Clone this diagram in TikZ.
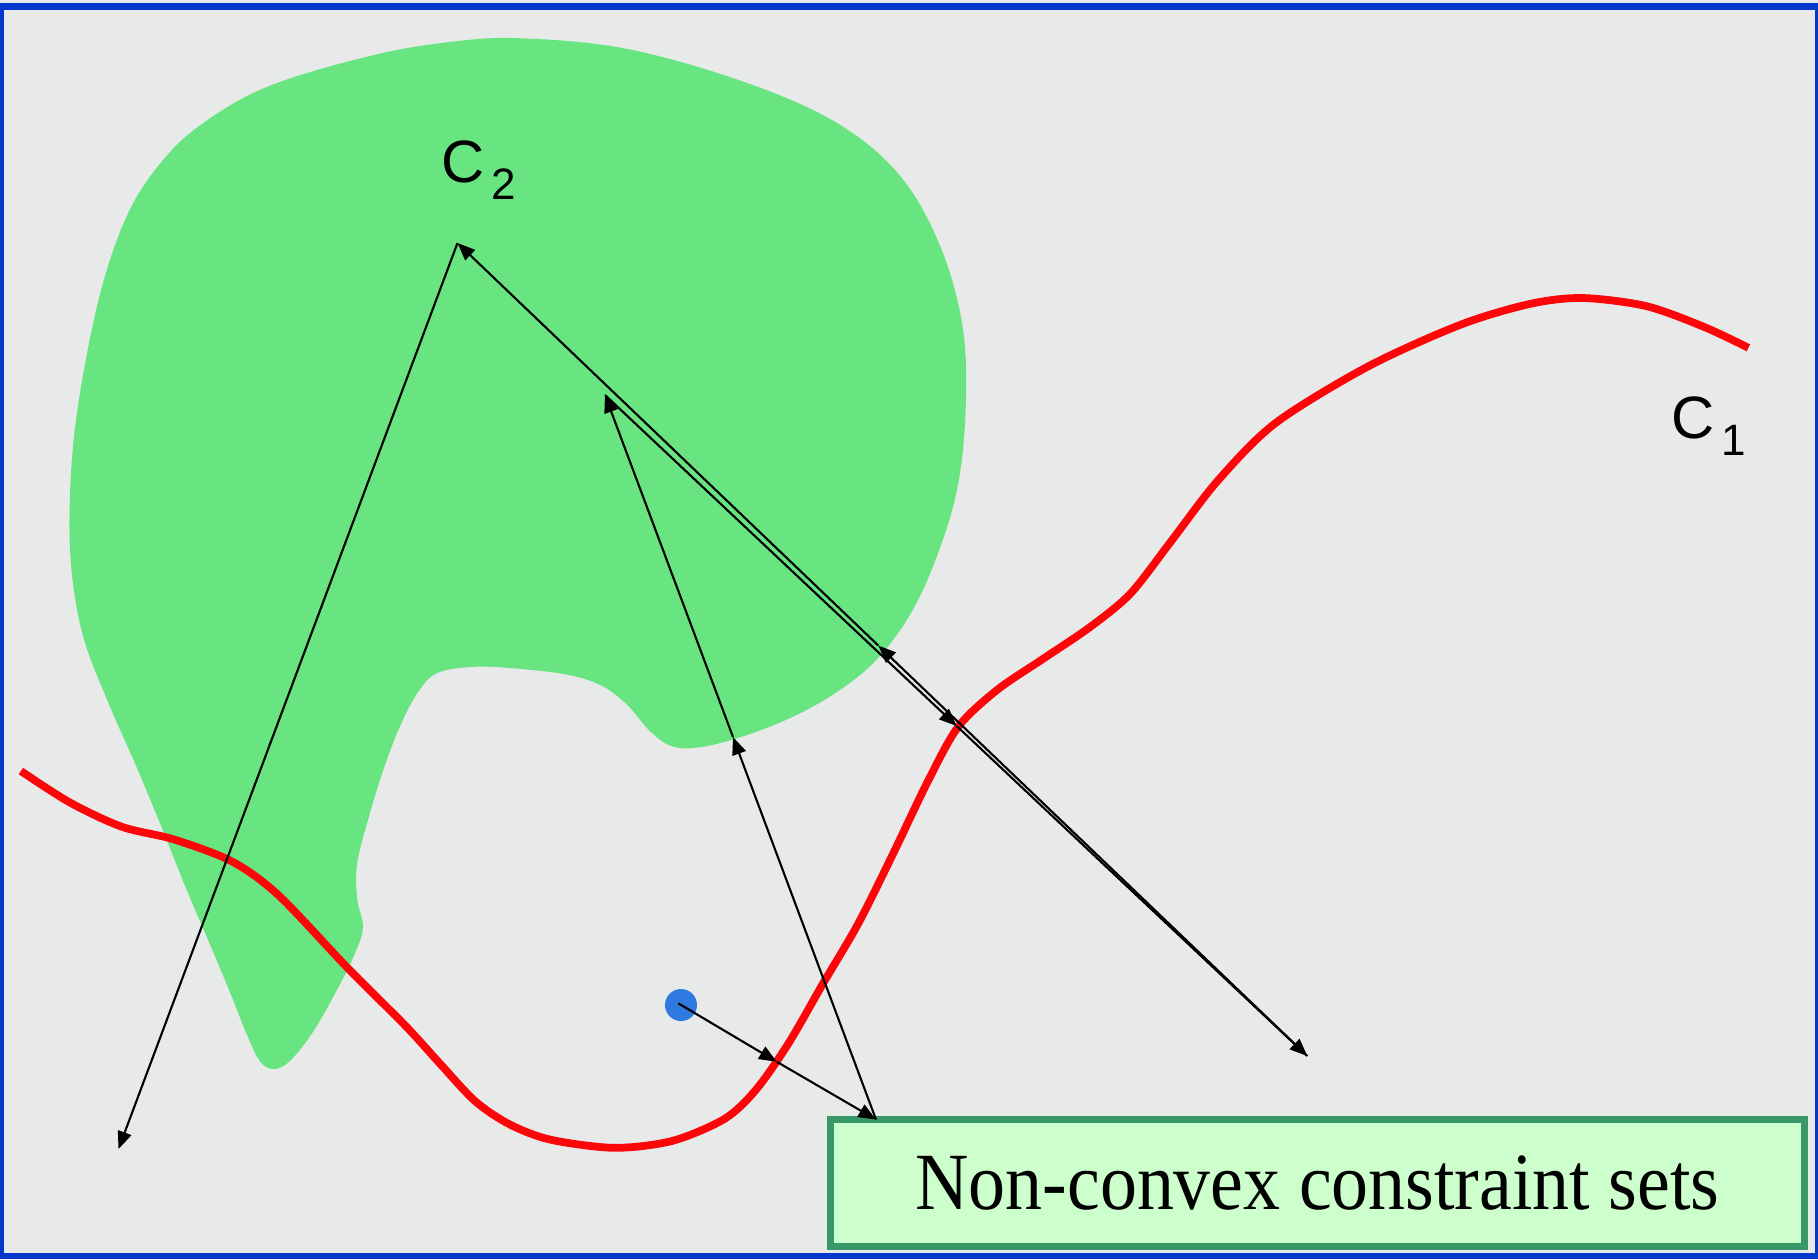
\documentclass[tikz,border=0pt]{standalone}
\usepackage{fontspec}
\setmainfont{Liberation Serif}
\newfontfamily\setfont{Liberation Sans}
\usetikzlibrary{arrows.meta}
\definecolor{bggray}{RGB}{232,234,233}
\definecolor{frameblue}{RGB}{4,56,204}
\definecolor{setgreen}{RGB}{104,228,128}
\definecolor{curvered}{RGB}{252,6,10}
\definecolor{dotblue}{RGB}{46,122,224}
\definecolor{boxfill}{RGB}{204,255,204}
\definecolor{boxline}{RGB}{56,152,104}

\begin{document}
\begin{tikzpicture}[x=0.01cm,y=-0.01cm,
  proj/.style={-{Triangle[length=5pt,width=4pt]},line width=.6pt},
  setlabel/.style={anchor=base west,inner sep=0pt,font=\setfont\fontsize{17}{20}\selectfont}]
\useasboundingbox (0,0) rectangle (1818,1259);
% background and frame
\fill[bggray] (0,0) rectangle (1818,1259);
\fill[frameblue] (0,3) rectangle (1818,10);
\fill[frameblue] (0,3) rectangle (4,1259);
\fill[frameblue] (1815,3) rectangle (1818,1259);
\fill[frameblue] (0,1253) rectangle (1818,1259);
% set C2
\fill[setgreen] plot[smooth cycle,tension=.6] coordinates {
  (521.7,38.3) (626.1,48.7) (742,81.2) (834.8,121.7) (898.5,173.9) (939.1,243.5)
  (962.3,324.6) (965.8,405.8) (957.6,486.9) (936.8,556.5) (910.1,614.5) (875.3,660.9)
  (834.8,693.3) (788.4,718.8) (736.2,738.5) (695.6,747.8) (670.1,745.5) (649.3,730.4)
  (626.1,703.7) (600.6,685.2) (568.1,674.8) (521.7,669) (475.4,666.7) (438.3,672.5)
  (419.7,689.8) (402.3,721.1) (384.9,765.2) (368.7,817.4) (357.1,863.7) (357.1,898.5)
  (362.9,927.5) (353.6,956.5) (336.2,991.3) (313,1031.9) (289.9,1060.9) (273.6,1069)
  (259.7,1060.9) (245.8,1031.9) (229.6,991.3) (208.7,941.4) (185.5,887) (162.3,829)
  (136.8,767.5) (107.8,701.4) (83.5,637.7) (71.9,573.9) (69.6,510.1) (74.2,434.8)
  (87,353.6) (104.3,278.3) (127.5,214.5) (156.5,168.1) (197.1,127.5) (266.7,87)
  (371,55.7) (452.2,41.7)};
% set C1
\draw[curvered,line width=2.2pt] plot[smooth] coordinates {
  (20.9,771) (69.6,802.3) (121.7,826.7) (173.9,839.4) (231.9,861.4) (278.3,895)
  (347.8,968.1) (405.8,1026.1) (440.6,1064.3) (475.4,1101.4) (510.1,1124.6) (550.7,1139.7)
  (614.5,1147.8) (672.5,1140.8) (724.6,1118.8) (755.9,1089.8) (788.4,1043.5) (823.2,983.2)
  (858,924) (892.7,854.5) (927.5,782) (958,727) (997,690) (1043.5,658.5)
  (1089.8,627.2) (1130.4,593.6) (1171,541.4) (1217.4,481.1) (1275.3,423.2) (1368.1,366.4)
  (1460.8,324.6) (1530.4,303.8) (1582.6,298) (1646.3,306.1) (1704.3,327) (1748.4,347.8)};
% labels
\node[setlabel] (lblCtwo) at (441,182) {C\hspace{1.8pt}\raisebox{-5pt}{\fontsize{12.5}{14}\selectfont 2}};
\node[setlabel] (lblCone) at (1671,438) {C\hspace{1.8pt}\raisebox{-5pt}{\fontsize{12.5}{14}\selectfont 1}};
% caption box
\fill[gray!55] (827.5,1119.5) rectangle (1801.5,1249.5);
\node[draw=boxline,fill=boxfill,line width=2pt,minimum width=9.74cm,minimum height=1.27cm,
  inner sep=0pt,font=\fontsize{21}{25}\selectfont] (caption) at (1317.5,1183)
  {\scalebox{1}[1.1]{Non-convex constraint sets}};
% iterates
\coordinate (x0) at (678.3,1003.3);
\coordinate (pA) at (776.7,1061.7);
\coordinate (pB) at (876,1119.5);
\coordinate (pQ) at (733,737);
\coordinate (pP) at (605,395);
\coordinate (pE) at (956.7,726);
\coordinate (pF) at (1307.3,1056);
\coordinate (pD) at (878.3,645.5);
\coordinate (pT) at (457.5,243);
\coordinate (pZ) at (118.5,1149);
\fill[dotblue] (681,1005) circle (0.16cm);
\foreach \a/\b in {x0/pA,pA/pB,pB/pQ,pQ/pP,pP/pE,pE/pF,pF/pD,pD/pT,pT/pZ}
  \draw[proj] (\a) -- (\b);
\end{tikzpicture}
\end{document}
